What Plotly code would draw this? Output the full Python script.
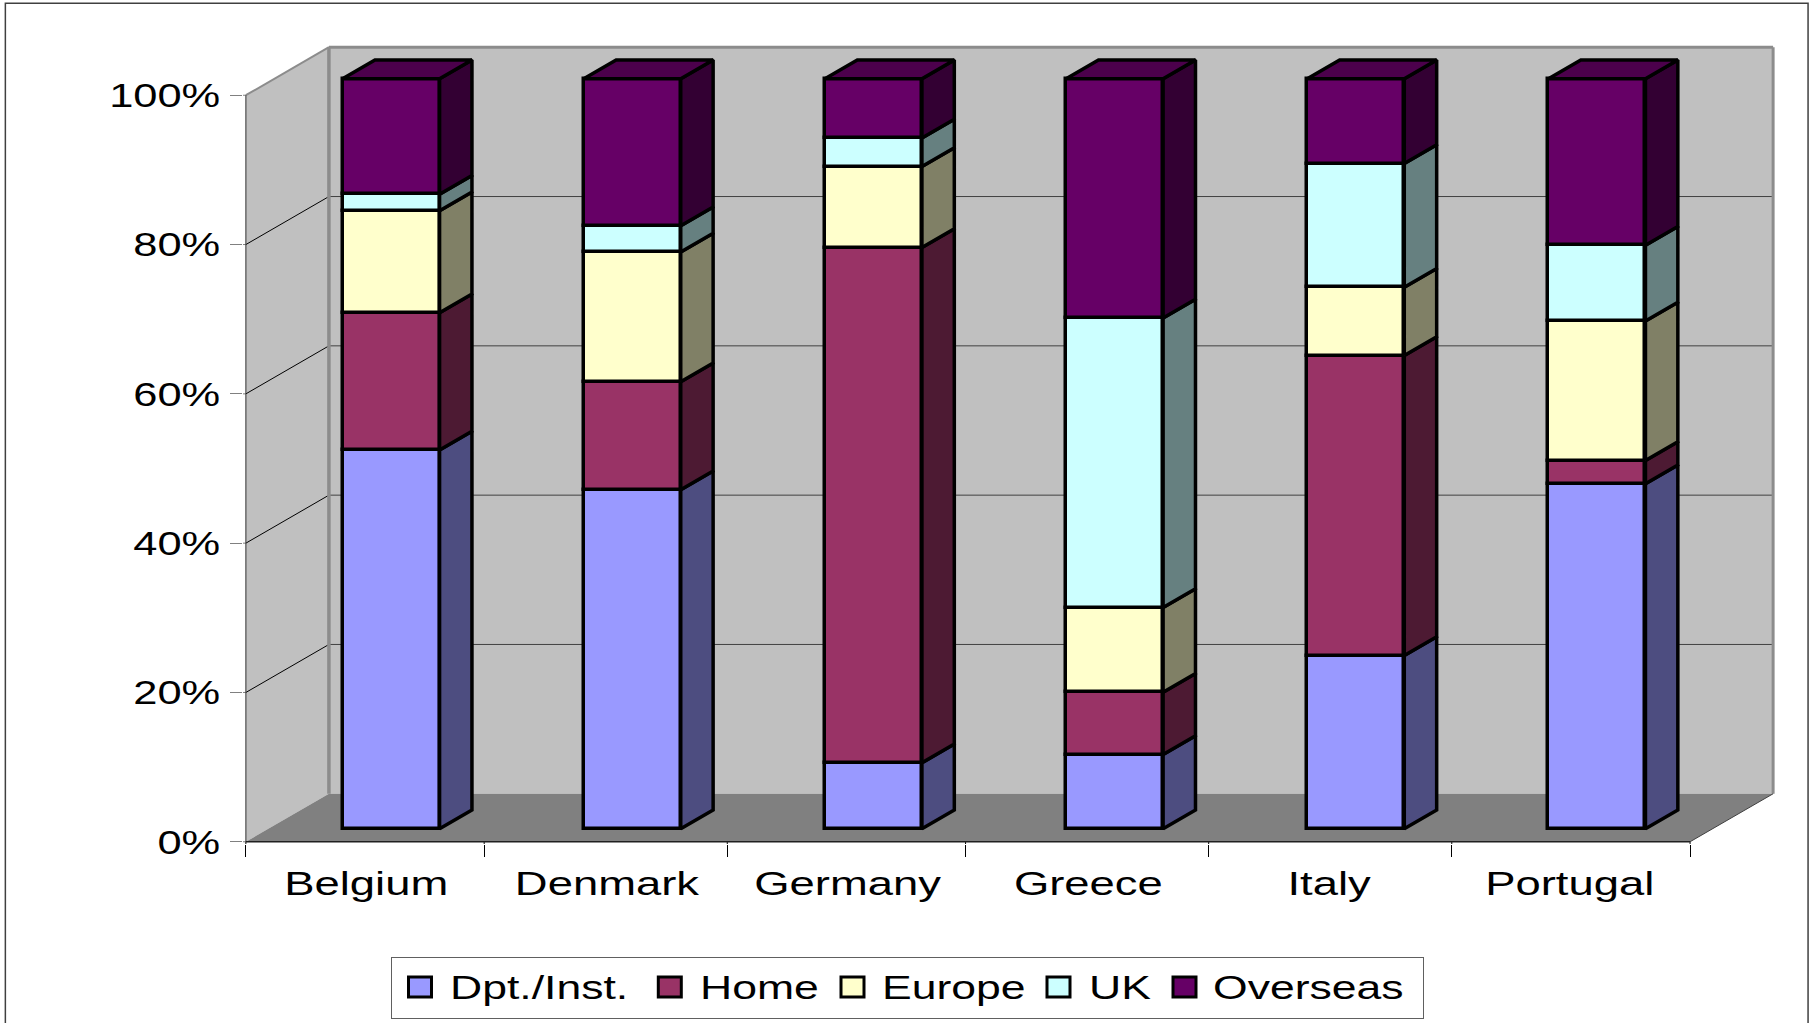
import plotly.graph_objects as go

# ---- data ----
categories = ["Belgium", "Denmark", "Germany", "Greece", "Italy", "Portugal"]
series_names = ["Dpt./Inst.", "Home", "Europe", "UK", "Overseas"]
dpt = [50.5, 45.2, 8.8, 9.9, 23.1, 46.0]
home = [18.3, 14.4, 68.7, 8.3, 40.0, 3.1]
europe = [13.6, 17.3, 10.8, 11.3, 9.1, 18.6]
uk = [2.2, 3.5, 3.8, 38.6, 16.5, 10.1]
overseas = [15.4, 19.6, 7.9, 31.9, 11.3, 22.2]
series_values = [dpt, home, europe, uk, overseas]
y_ticks = [0, 20, 40, 60, 80, 100]
y_labels = ["0%", "20%", "40%", "60%", "80%", "100%"]

front_colors = ["#9999FF", "#993366", "#FFFFCC", "#CCFFFF", "#660066"]
side_colors = ["#4D4D80", "#4D1A33", "#808066", "#668080", "#330033"]
top_color = "#4C004C"
WALL, FLOOR, EDGE = "#C0C0C0", "#808080", "#8C8C8C"

# projection of the 3-D box on to the front plane, in axis units
DX, DY = 0.345, 6.43      # full floor depth
D1, D2 = 0.27, 0.66       # bar front / back depth as a share of the floor depth
BAR_W = 0.403
BAR_SCALE = 1.0047        # the bars are drawn slightly nearer than the axis plane
BAR_SHIFT, BAR_STEP = 0.010, 1.002
PAD_X, PAD_Y = 0.012, 0.3
PX_X, PX_Y = 240.67, 7.47  # pixels per axis unit
X_LEFT, Y_ZERO = 246.0, 842.0
W, H = 1814, 1023
LINE = 3.5

x_range = [-PAD_X, 6 + DX + PAD_X]
y_range = [-PAD_Y, 100 + DY + PAD_Y]
m_l = X_LEFT - PAD_X * PX_X
m_r = W - (X_LEFT + (6 + DX + PAD_X) * PX_X)
m_b = H - (Y_ZERO + PAD_Y * PX_Y)
m_t = Y_ZERO - (100 + DY + PAD_Y) * PX_Y


def paper_x(px):
    return (px - m_l) / (W - m_l - m_r)


def paper_y(py):
    return 1 - (py - m_t) / (H - m_t - m_b)


def poly(points):
    return "M" + "L".join(f"{x},{y}" for x, y in points) + "Z"


def line_shape(x0, y0, x1, y1, color, width):
    return dict(type="line", x0=x0, y0=y0, x1=x1, y1=y1, xref="x", yref="y",
                layer="below", line=dict(color=color, width=width))


shapes = [
    dict(type="path", xref="x", yref="y", layer="below", line_width=0, fillcolor=WALL,
         path=poly([(0, 0), (DX, DY), (DX, 100 + DY), (0, 100)])),
    dict(type="path", xref="x", yref="y", layer="below", line_width=0, fillcolor=WALL,
         path=poly([(DX, DY), (6 + DX, DY), (6 + DX, 100 + DY), (DX, 100 + DY)])),
    dict(type="path", xref="x", yref="y", layer="below", line_width=0, fillcolor=FLOOR,
         path=poly([(0, 0), (6, 0), (6 + DX, DY), (DX, DY)])),
]
for t in y_ticks[1:-1]:
    shapes.append(line_shape(DX, t + DY, 6 + DX, t + DY, "#404040", 1))
    shapes.append(line_shape(0, t, DX, t + DY, "#000000", 1))
for t in y_ticks:
    shapes.append(line_shape(-PAD_X, t, 0, t, "#808080", 1))
for b in [0, 0.99, 2, 2.99, 4, 5.01, 6]:
    shapes.append(line_shape(b, -PAD_Y, b, 0, "#000000", 1))
shapes += [
    line_shape(DX, DY, DX, 100 + DY, EDGE, 3.5),
    line_shape(DX, 100 + DY, 6 + DX, 100 + DY, EDGE, 3),
    line_shape(6 + DX, DY, 6 + DX, 100 + DY, EDGE, 3),
    line_shape(0, 100, DX, 100 + DY, EDGE, 2),
    line_shape(0, 0, 0, 100, "#303030", 1),
    line_shape(0, 0, 6, 0, "#202020", 1.5),
    line_shape(6, 0, 6 + DX, DY, "#404040", 1),
    # picture frame: its bottom edge lies below the page
    dict(type="rect", xref="paper", yref="paper", layer="below",
         x0=paper_x(5.5), x1=paper_x(1808), y0=paper_y(3), y1=paper_y(1040),
         line=dict(color="#404040", width=1.5), fillcolor="rgba(0,0,0,0)"),
]

fig = go.Figure()
centers = [(i * BAR_STEP) + 0.5 + D1 * DX + BAR_SHIFT for i in range(len(categories))]
base = [0.0] * len(categories)
shift_y = D1 * DY
step_x, step_y = (D2 - D1) * DX, (D2 - D1) * DY

for s, values in enumerate(series_values):
    fig.add_trace(go.Bar(
        x=centers, y=[v * BAR_SCALE for v in values],
        base=[b * BAR_SCALE + shift_y for b in base], width=BAR_W,
        name=series_names[s], marker=dict(color=front_colors[s], line=dict(color="#000000", width=LINE)),
        hoverinfo="skip"))
    xs, ys = [], []
    for c, b, v in zip(centers, base, values):
        r = c + BAR_W / 2
        low, high = b * BAR_SCALE + shift_y, (b + v) * BAR_SCALE + shift_y
        xs += [r, r + step_x, r + step_x, r, r, None]
        ys += [low, low + step_y, high + step_y, high, low, None]
    fig.add_trace(go.Scatter(
        x=xs, y=ys, mode="lines", fill="toself", fillcolor=side_colors[s],
        line=dict(color="#000000", width=LINE), showlegend=False, hoverinfo="skip"))
    base = [b + v for b, v in zip(base, values)]

xs, ys = [], []
for c, b in zip(centers, base):
    l, r, top = c - BAR_W / 2, c + BAR_W / 2, b * BAR_SCALE + shift_y
    xs += [l, r, r + step_x, l + step_x, l, None]
    ys += [top, top, top + step_y, top + step_y, top, None]
fig.add_trace(go.Scatter(x=xs, y=ys, mode="lines", fill="toself", fillcolor=top_color,
                         line=dict(color="#000000", width=LINE), showlegend=False, hoverinfo="skip"))

FONT = dict(family="Liberation Sans", size=34, color="#000000")
fig.update_layout(
    width=W, height=H, barmode="overlay", bargap=0,
    margin=dict(l=m_l, r=m_r, t=m_t, b=m_b, pad=0, autoexpand=False),
    paper_bgcolor="#FFFFFF", plot_bgcolor="rgba(0,0,0,0)", shapes=shapes, font=FONT,
    xaxis=dict(range=x_range, tickmode="array", tickvals=[i + 0.5 for i in range(6)],
               ticktext=categories, ticks="", showgrid=False, zeroline=False, showline=False,
               ticklabelstandoff=16, tickfont=FONT,
               minor=dict(tickmode="array", tickvals=[0, 0.99, 2, 2.99, 4, 5.01, 6], ticks="outside",
                          ticklen=12, tickcolor="#000000", tickwidth=1, showgrid=False)),
    yaxis=dict(range=y_range, tickmode="array", tickvals=y_ticks, ticktext=y_labels,
               ticks="outside", ticklen=12, tickcolor="#808080", tickwidth=1, showgrid=False,
               zeroline=False, showline=False, ticklabelstandoff=3, tickfont=FONT),
    legend=dict(orientation="h", x=0.1, y=-0.1, xanchor="left", yanchor="top", font=FONT,
                bgcolor="#FFFFFF", bordercolor="#606060", borderwidth=1, traceorder="normal"),
)

# Excel's text is drawn wider than any installed face: stretch the real text glyphs,
# and lay the legend out to match.
post = """
document.documentElement.style.overflow='hidden';
document.body.style.margin='0';
function stretch(el,s){el.setAttribute('textLength',el.getComputedTextLength()*s);
 el.setAttribute('lengthAdjust','spacingAndGlyphs');}
document.querySelectorAll('.xtick text').forEach(function(e){stretch(e,1.335);});
document.querySelectorAll('.ytick text').forEach(function(e){stretch(e,1.277);});
var lg=document.querySelector('.legend');
lg.setAttribute('transform','translate(391,957)');
var bg=lg.querySelector('rect.bg');
bg.setAttribute('x',0);bg.setAttribute('y',0);bg.setAttribute('width',1032);bg.setAttribute('height',61);
var sb=lg.querySelector('.scrollbox');sb.removeAttribute('clip-path');sb.setAttribute('transform','');
var sw=[17.5,267.3,450,656,782], tx=[59,309,491,698,822];
lg.querySelectorAll('.traces').forEach(function(t,i){
 t.setAttribute('transform','translate(0,30)');
 var p=t.querySelector('.legendpoints path');
 p.setAttribute('d','M0,-10H23V10H0Z');p.setAttribute('transform','translate('+sw[i]+',0)');
 p.style.strokeWidth='3px';p.style.stroke='#000';
 var x=t.querySelector('text.legendtext');
 x.setAttribute('x',tx[i]);x.setAttribute('y',12);stretch(x,1.31);
 var r=t.querySelector('rect.legendtoggle');if(r){r.setAttribute('width',0);}
});
"""
fig.write_html("out.html", post_script=post, config={"displayModeBar": False})
